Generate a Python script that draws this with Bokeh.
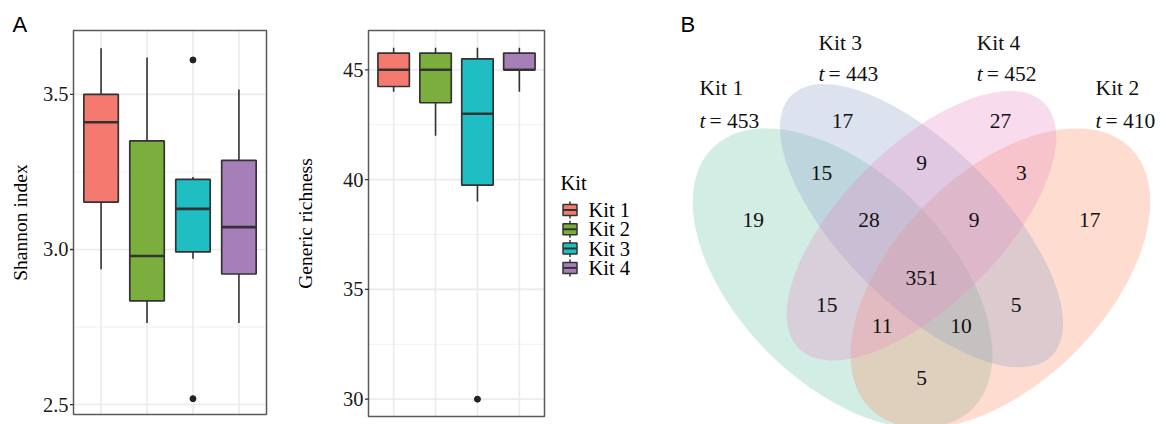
from bokeh.plotting import figure
from bokeh.models import Range1d, ColumnDataSource
from bokeh.embed import file_html
from bokeh.resources import INLINE
from bokeh.core.properties import value
import math

# ---------------- data ----------------
kits = ["Kit 1", "Kit 2", "Kit 3", "Kit 4"]
kit_pos = [1, 2, 3, 4]
kit_colors = ["#F47A70", "#7CAE3E", "#1FBEC3", "#A67FB9"]
legend_title = "Kit"

# Shannon index box statistics
sh_lower = [2.936, 2.763, 2.970, 2.763]
sh_q1 = [3.153, 2.834, 2.992, 2.921]
sh_median = [3.410, 2.979, 3.131, 3.072]
sh_q3 = [3.500, 3.350, 3.226, 3.287]
sh_upper = [3.649, 3.619, 3.234, 3.516]
sh_out_x = [3, 3]
sh_out_y = [3.611, 2.519]
sh_ticks = [2.5, 3.0, 3.5]
sh_tick_labels = ["2.5", "3.0", "3.5"]
sh_minor = [2.75, 3.25]

# Generic richness box statistics
gr_lower = [44.0, 42.0, 39.0, 44.0]
gr_q1 = [44.24, 43.5, 39.75, 45.0]
gr_median = [45.0, 45.0, 43.0, 45.0]
gr_q3 = [45.76, 45.76, 45.5, 45.76]
gr_upper = [46.0, 46.0, 46.0, 46.0]
gr_out_x = [3]
gr_out_y = [30.0]
gr_ticks = [30, 35, 40, 45]
gr_tick_labels = ["30", "35", "40", "45"]
gr_minor = [32.5, 37.5, 42.5]

# Venn diagram data
venn_sets = ["Kit 1", "Kit 3", "Kit 4", "Kit 2"]
venn_totals = ["= 453", "= 443", "= 452", "= 410"]
venn_counts = [17, 9, 27, 15, 28, 351, 9, 3, 19, 15, 11, 5, 10, 5, 17]

# ---------------- layout / style (not data) ----------------
W, H = 1169, 424
SERIF = "Liberation Serif"
SANS = "Liberation Sans"
BOX_W = 0.75
OUTLINE = "#333333"
GRID = "#EBEBEB"
GRID_MINOR = "#F1F1F1"
BORDER = "#5a5a5a"

# main coordinate system = Venn unit square (VennDiagram quad layout)
PX = 526.0
CX_PX, CX_U = 921.0, 0.5
CY_PX, CY_U = 120.0, 0.77


def ux(px):
    return CX_U + (px - CX_PX) / PX


def uy(py):
    return CY_U - (py - CY_PX) / PX


ell_x = [0.35, 0.65, 0.50, 0.50]
ell_y = [0.47, 0.47, 0.57, 0.57]
ell_a = [0.35, 0.35, 0.35, 0.33]
ell_b = [0.20, 0.20, 0.15, 0.15]
ell_rot = [135, 45, 135, 45]
ell_col = ["#66C2A5", "#FC8D62", "#8DA0CB", "#E78AC3"]
lab_x = [0.35, 0.5, 0.65, 0.31, 0.4, 0.5, 0.6, 0.69, 0.18, 0.32, 0.425, 0.5, 0.575, 0.68, 0.82]
lab_y = [0.77, 0.69, 0.77, 0.67, 0.58, 0.47, 0.58, 0.67, 0.58, 0.42, 0.38, 0.28, 0.38, 0.42, 0.58]
cat_x = [0.078, 0.304, 0.605, 0.831]
cat_y = [0.831, 0.918, 0.918, 0.831]
cat_t_y = [0.770, 0.859, 0.859, 0.770]

p = figure(width=W, height=H, x_range=Range1d(ux(0), ux(W)), y_range=Range1d(uy(H), uy(0)),
           x_axis_type=None, y_axis_type=None, output_backend="svg", toolbar_location=None,
           min_border=0)
p.title.visible = False
p.grid.visible = False
p.outline_line_color = None
p.background_fill_color = "white"
p.border_fill_color = "white"
# pixel-space range (y downward) for the legend layout
p.extra_x_ranges["px"] = Range1d(0, W)
p.extra_y_ranges["py"] = Range1d(H, 0)
PXKW = dict(x_range_name="px", y_range_name="py")

XLO, XHI = 0.4, 4.6


def box_panel(name, fl, fr, ft, fb, ylo, yhi, ticks, tick_labels, minor,
              lower, q1, med, q3, upper, ox, oy, ylabel, title_px):
    sx = (fr - fl) / (XHI - XLO)
    sy = (fb - ft) / (yhi - ylo)
    xr, yr = name + "x", name + "y"
    p.extra_x_ranges[xr] = Range1d(XLO - fl / sx, XHI + (W - fr) / sx)
    p.extra_y_ranges[yr] = Range1d(ylo - (H - fb) / sy, yhi + ft / sy)
    kw = dict(x_range_name=xr, y_range_name=yr)

    # grid
    p.segment(x0=[XLO] * len(minor), x1=[XHI] * len(minor), y0=minor, y1=minor,
              line_color=GRID_MINOR, line_width=1, **kw)
    p.segment(x0=[XLO] * len(ticks), x1=[XHI] * len(ticks), y0=ticks, y1=ticks,
              line_color=GRID, line_width=1.6, **kw)
    p.segment(x0=kit_pos, x1=kit_pos, y0=[ylo] * 4, y1=[yhi] * 4,
              line_color=GRID, line_width=1.6, **kw)

    src = ColumnDataSource(dict(x=kit_pos, lower=lower, q1=q1, med=med, q3=q3, upper=upper,
                                color=kit_colors,
                                x0=[x - BOX_W / 2 for x in kit_pos],
                                x1=[x + BOX_W / 2 for x in kit_pos]))
    p.segment(x0="x", y0="q3", x1="x", y1="upper", source=src, line_color=OUTLINE,
              line_width=1.6, **kw)
    p.segment(x0="x", y0="q1", x1="x", y1="lower", source=src, line_color=OUTLINE,
              line_width=1.6, **kw)
    p.vbar(x="x", width=BOX_W, bottom="q1", top="q3", source=src, fill_color="color",
           line_color=OUTLINE, line_width=1.7, **kw)
    p.segment(x0="x0", y0="med", x1="x1", y1="med", source=src, line_color=OUTLINE,
              line_width=2.6, **kw)
    p.scatter(ox, oy, size=6, color="#222222", **kw)

    # panel border
    p.quad(left=[XLO], right=[XHI], bottom=[ylo], top=[yhi], fill_color=None,
           line_color=BORDER, line_width=1.5, **kw)
    # y axis ticks and labels
    p.segment(x0=[XLO - 3.5 / sx] * len(ticks), x1=[XLO] * len(ticks), y0=ticks, y1=ticks,
              line_color="#333333", line_width=1.3, **kw)
    p.text(x=[XLO - 5 / sx] * len(ticks), y=ticks, text=tick_labels, text_font=value(SERIF),
           text_font_size=value("20.5px"), text_align="right", text_baseline="middle",
           text_color="#1a1a1a", **kw)
    p.text(x=[XLO - (fl - title_px) / sx], y=[(ylo + yhi) / 2], text=[ylabel],
           text_font=value(SERIF), text_font_size=value("19.5px"), text_align="center",
           text_baseline="middle", angle=math.pi / 2, text_color="#000000", **kw)


box_panel("a1", 73, 266, 30, 414, 2.468, 3.706, sh_ticks, sh_tick_labels, sh_minor,
          sh_lower, sh_q1, sh_median, sh_q3, sh_upper, sh_out_x, sh_out_y,
          "Shannon index", 20)
box_panel("a2", 368, 544, 30, 416, 29.21, 46.79, gr_ticks, gr_tick_labels, gr_minor,
          gr_lower, gr_q1, gr_median, gr_q3, gr_upper, gr_out_x, gr_out_y,
          "Generic richness", 305)

# ---------------- legend (ggplot-style boxplot keys) ----------------
LEG_X, LEG_TITLE_Y, LEG_Y0, LEG_STEP = 560, 182, 209.5, 19.3
key_cx = LEG_X + 9.5
key_cy = [LEG_Y0 + i * LEG_STEP for i in range(len(kits))]
p.text(x=[LEG_X], y=[LEG_TITLE_Y], text=[legend_title], text_font=value(SERIF),
       text_font_size=value("20.5px"), text_align="left", text_baseline="middle",
       text_color="#000000", **PXKW)
p.segment(x0=[key_cx] * 4, x1=[key_cx] * 4, y0=[c - 8.5 for c in key_cy],
          y1=[c + 8.5 for c in key_cy], line_color=OUTLINE, line_width=1.5, **PXKW)
p.quad(left=[key_cx - 7] * 4, right=[key_cx + 7] * 4, top=[c - 5.5 for c in key_cy],
       bottom=[c + 5.5 for c in key_cy], fill_color=kit_colors, line_color=OUTLINE,
       line_width=1.5, **PXKW)
p.segment(x0=[key_cx - 7] * 4, x1=[key_cx + 7] * 4, y0=key_cy, y1=key_cy,
          line_color=OUTLINE, line_width=2, **PXKW)
p.text(x=[LEG_X + 28] * 4, y=key_cy, text=kits, text_font=value(SERIF),
       text_font_size=value("20.5px"), text_align="left", text_baseline="middle",
       text_color="#000000", **PXKW)

# ---------------- Venn ----------------
p.ellipse(x=ell_x, y=ell_y, width=[2 * a for a in ell_a], height=[2 * b for b in ell_b],
          angle=[math.radians(r) for r in ell_rot], fill_color=ell_col, fill_alpha=0.3,
          line_color=None)
p.text(x=lab_x, y=lab_y, text=[str(c) for c in venn_counts], text_font=value(SERIF),
       text_font_size=value("21.5px"), text_align="center", text_baseline="middle",
       text_color="#111111")
p.text(x=cat_x, y=cat_y, text=venn_sets, text_font=value(SERIF), text_font_size=value("21.5px"),
       text_align="left", text_baseline="middle", text_color="#111111")
p.text(x=cat_x, y=cat_t_y, text=["t"] * 4, text_font=value(SERIF), text_font_size=value("21.5px"),
       text_font_style="italic", text_align="left", text_baseline="middle", text_color="#111111")
p.text(x=[c + 10 / PX for c in cat_x], y=cat_t_y, text=venn_totals, text_font=value(SERIF),
       text_font_size=value("21.5px"), text_align="left", text_baseline="middle",
       text_color="#111111")

# panel letters
p.text(x=[ux(12), ux(680)], y=[uy(24), uy(24)], text=["A", "B"],
       text_font=value(SANS), text_font_size=value("22px"), text_align="left",
       text_baseline="middle", text_color="#000000")

open("out.html", "w").write(file_html(p, INLINE))
